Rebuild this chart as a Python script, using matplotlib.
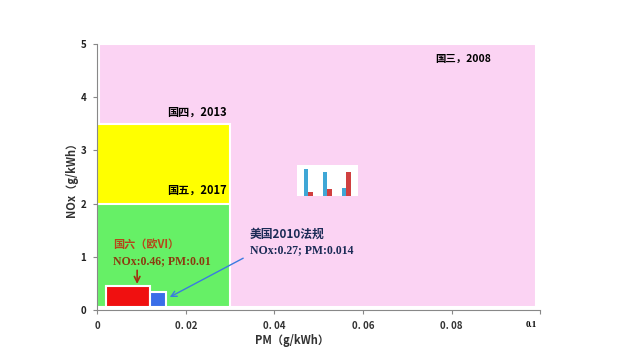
import matplotlib
matplotlib.use("Agg")
import matplotlib.pyplot as plt
from matplotlib.patches import Rectangle

plt.rcParams['font.family'] = ['Noto Sans CJK SC', 'DejaVu Sans']

# emission limit boxes: (label, pm_lo, pm_hi, nox_hi, colour)
stages = ["国三", "国四", "国五", "国六", "美国2010"]
pm_lo = [0.0005, 0.0, 0.0, 0.002, 0.012]
pm_hi = [0.099, 0.03, 0.03, 0.012, 0.0155]
nox_hi = [5.0, 3.5, 2.0, 0.46, 0.34]
colors = ["#fbd3f3", "#ffff00", "#66f066", "#f01010", "#3a6ee8"]

xticks = [0, 0.02, 0.04, 0.06, 0.08, 0.1]
xticklabels = ["0", "0. 02", "0. 04", "0. 06", "0. 08", ""]
yticks = [0, 1, 2, 3, 4, 5]

# thumbnail bar chart values (tiny inset picture)
thumb_groups = [0, 1, 2]
thumb_blue = [0.95, 0.85, 0.3]
thumb_red = [0.15, 0.25, 0.85]

fig = plt.figure(figsize=(6.4, 3.61), dpi=100)
ax = fig.add_axes([0.152, 0.141, 0.692, 0.737])

for lo, hi, top, c in zip(pm_lo, pm_hi, nox_hi, colors):
    ax.add_patch(Rectangle((lo, 0.05), hi - lo, top - 0.05, facecolor=c,
                           edgecolor="white", linewidth=1.5))

ax.set_xlim(0, 0.1)
ax.set_ylim(0, 5)
ax.set_xticks(xticks)
ax.set_xticklabels(xticklabels, fontsize=7, fontweight="bold", color="#333333")
ax.set_yticks(yticks)
ax.set_yticklabels([str(v) for v in yticks], fontsize=7, fontweight="bold", color="#222222")
ax.text(0.098, -0.2, "0.1", transform=ax.transData, ha="center", va="top",
        fontsize=6.5, fontfamily="Liberation Serif", fontweight="bold")
for s in ["top", "right"]:
    ax.spines[s].set_visible(False)
for s in ["left", "bottom"]:
    ax.spines[s].set_color("#888888")
ax.tick_params(length=3, color="#888888", pad=5)

ax.set_xlabel("PM（g/kWh）", fontsize=8, fontweight="bold", color="#333333", labelpad=4)
ax.xaxis.set_label_coords(0.44, -0.09)
ax.set_ylabel("NOx（g/kWh）", fontsize=8, fontweight="bold", color="#333333", labelpad=2)

ax.text(0.0827, 4.72, "国三，2008", fontsize=7.5, fontweight="bold", ha="center", va="center")
ax.text(0.0225, 3.72, "国四，2013", fontsize=8, fontweight="bold", ha="center", va="center")
ax.text(0.0225, 2.25, "国五，2017", fontsize=8, fontweight="bold", ha="center", va="center")
ax.text(0.0035, 1.24, "国六（欧VI）", fontsize=8, fontweight="bold",
        color="#b5461a", ha="left", va="center")
ax.text(0.0035, 0.92, "NOx:0.46; PM:0.01", fontsize=8.5, fontweight="bold",
        color="#8b3a0f", ha="left", va="center", fontfamily="Liberation Serif")
ax.text(0.0345, 1.42, "美国2010法规", fontsize=8.5, fontweight="bold",
        color="#1a2a55", ha="left", va="center")
ax.text(0.0345, 1.12, "NOx:0.27; PM:0.014", fontsize=8.5, fontweight="bold",
        color="#1a2a55", ha="left", va="center", fontfamily="Liberation Serif")

ax.annotate("", xy=(0.009, 0.44), xytext=(0.009, 0.8),
            arrowprops=dict(arrowstyle="->", color="#a03010", lw=1.2))
ax.annotate("", xy=(0.0158, 0.22), xytext=(0.0335, 1.0),
            arrowprops=dict(arrowstyle="->", color="#3a7be0", lw=1.0))

# small embedded thumbnail picture
ins = fig.add_axes([0.464, 0.457, 0.095, 0.086])
ins.set_facecolor("white")
w = 0.25
ins.bar([g - w / 2 for g in thumb_groups], thumb_blue, width=w, color="#3fa7d6")
ins.bar([g + w / 2 for g in thumb_groups], thumb_red, width=w, color="#d04040")
ins.set_xlim(-0.6, 2.6)
ins.set_ylim(0, 1.1)
ins.set_xticks([])
ins.set_yticks([])
for s in ins.spines.values():
    s.set_visible(False)
ins.axhline(0, color="#888888", lw=0.5)

fig.savefig("out.png", dpi=100)
